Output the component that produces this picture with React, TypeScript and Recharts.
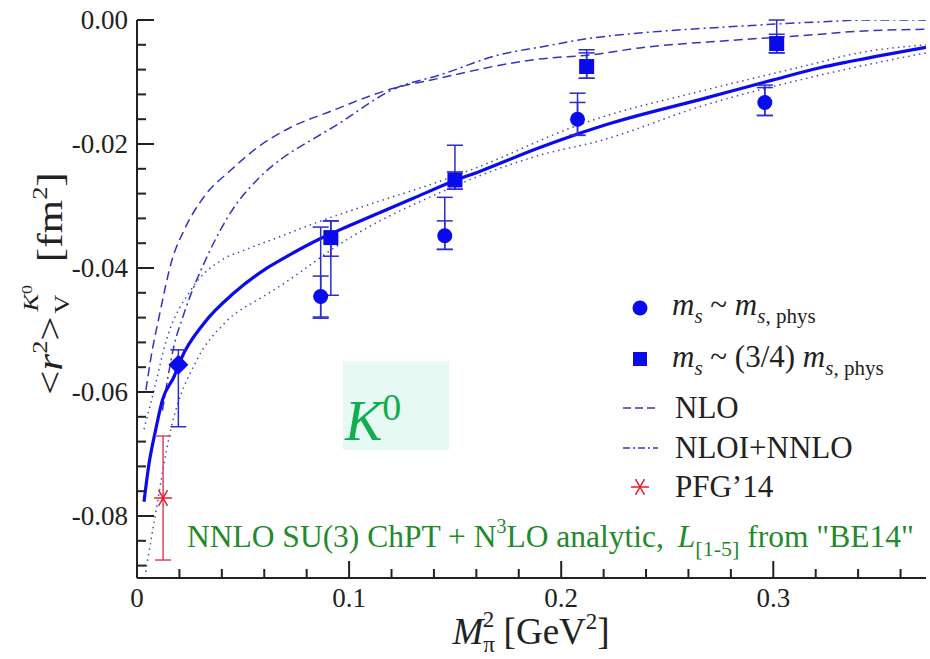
import React from 'react'
import { ComposedChart, Line, Scatter, XAxis, YAxis, ErrorBar, Customized } from 'recharts'

const FONT = '"Liberation Serif", "Times New Roman", Times, serif'
const BLUE = '#0a0aee'
const LINE_BLUE = '#3434c0'
const BAR_BLUE = '#2a2ad0'
const RED = '#e02030'
const AXIS = '#222'

// axis ticks
const xTicks = [0, 0.02, 0.04, 0.06, 0.08, 0.1, 0.12, 0.14, 0.16, 0.18, 0.2, 0.22, 0.24, 0.26, 0.28, 0.3, 0.32, 0.34, 0.36]
const yTicks = [0, -0.004, -0.008, -0.012, -0.016, -0.02, -0.024, -0.028, -0.032, -0.036, -0.04, -0.044, -0.048, -0.052, -0.056, -0.06, -0.064, -0.068, -0.072, -0.076, -0.08, -0.084, -0.088]

// central fit (NNLO SU(3) ChPT + N3LO)
const fitX = [0.0033, 0.0057, 0.0088, 0.012, 0.0175, 0.0206, 0.0316, 0.0458, 0.06, 0.0678, 0.0868, 0.1, 0.13, 0.1499, 0.161, 0.1896, 0.2, 0.221, 0.268, 0.2995, 0.322, 0.336, 0.372]
const fitY = [-0.0777, -0.0715, -0.0661, -0.0613, -0.0575, -0.0548, -0.0489, -0.044, -0.0403, -0.0387, -0.0352, -0.0332, -0.0288, -0.0259, -0.0245, -0.0206, -0.0193, -0.0169, -0.0126, -0.0097, -0.0077, -0.0067, -0.0044]

// error band, upper and lower edge
const upX = [0.0033, 0.008, 0.014, 0.0255, 0.041, 0.05, 0.067, 0.082, 0.0986, 0.1486, 0.161, 0.2085, 0.218, 0.268, 0.322, 0.336, 0.372]
const upY = [-0.066, -0.0597, -0.0515, -0.0435, -0.0385, -0.0372, -0.035, -0.033, -0.031, -0.0253, -0.0237, -0.0169, -0.0158, -0.0113, -0.0068, -0.0056, -0.004]
const loX = [0.0041, 0.008, 0.0159, 0.0283, 0.041, 0.06, 0.067, 0.0986, 0.1457, 0.161, 0.19, 0.218, 0.268, 0.322, 0.372]
const loY = [-0.089, -0.0811, -0.0661, -0.0548, -0.049, -0.0445, -0.043, -0.0355, -0.0274, -0.0252, -0.0218, -0.0195, -0.0137, -0.0089, -0.0053]

// NLO
const nloX = [0.0042, 0.0066, 0.0104, 0.0165, 0.0222, 0.0316, 0.0443, 0.0566, 0.0726, 0.0915, 0.12, 0.1425, 0.171, 0.1896, 0.2146, 0.237, 0.284, 0.322, 0.336, 0.372]
const nloY = [-0.0597, -0.0544, -0.0479, -0.0387, -0.0339, -0.0285, -0.0242, -0.0206, -0.0173, -0.0147, -0.0111, -0.0094, -0.0073, -0.0063, -0.0056, -0.0045, -0.0032, -0.0023, -0.0019, -0.0015]

// NLOI+NNLO
const nnloX = [0.012, 0.0175, 0.022, 0.033, 0.0458, 0.0566, 0.0693, 0.08, 0.0929, 0.122, 0.1425, 0.171, 0.1896, 0.2146, 0.237, 0.284, 0.322, 0.345, 0.372]
const nnloY = [-0.063, -0.0525, -0.0475, -0.0382, -0.0302, -0.0258, -0.0221, -0.0198, -0.0172, -0.011, -0.0089, -0.0056, -0.0044, -0.0029, -0.0021, -0.001, -0.0003, 0, 0]

// lattice points, m_s ~ m_s,phys
const circX = [0.0866, 0.1451, 0.2077, 0.296]
const circY = [-0.0446, -0.0348, -0.016, -0.0133]
const circTot = [[0.0035, 0.0112], [0.0022, 0.0062], [0.0026, 0.0042], [0.0021, 0.0028]]
const circStat = [[0.0033, 0.0033], [0.0022, 0.0024], [0.0026, 0.0027], [0.0021, 0.0024]]

// lattice points, m_s ~ (3/4) m_s,phys
const sqX = [0.0914, 0.1499, 0.212, 0.3016]
const sqY = [-0.0351, -0.0258, -0.0075, -0.0038]
const sqTot = [[0.0093, 0.0027], [0.0015, 0.0056], [0.0019, 0.0027], [0.0015, 0.0038]]
const sqStat = [[0.003, 0.0027], [0.0015, 0.0013], [0.0019, 0.0022], [0.0015, 0.0015]]

// physical point
const physX = [0.0195]
const physY = [-0.0556]
const physErr = [[0.01, 0.0024]]

// PFG'14
const pfgX = [0.0123]
const pfgY = [-0.0771]
const pfgErr = [[0.01, 0.01]]

const zip = (xs: number[], ys: number[]) => xs.map((x, i) => ({ x, y: ys[i] }))
const fitData = zip(fitX, fitY)
const upData = zip(upX, upY)
const loData = zip(loX, loY)
const nloData = zip(nloX, nloY)
const nnloData = zip(nnloX, nnloY)
const circData = circX.map((x, i) => ({ x, y: circY[i], tot: circTot[i], stat: circStat[i] }))
const sqData = sqX.map((x, i) => ({ x, y: sqY[i], tot: sqTot[i], stat: sqStat[i] }))
const physData = physX.map((x, i) => ({ x, y: physY[i], err: physErr[i] }))
const pfgData = pfgX.map((x, i) => ({ x, y: pfgY[i], err: pfgErr[i] }))

const isMajorX = (v: number) => Math.abs(v * 10 - Math.round(v * 10)) < 1e-6
const isMajorY = (v: number) => Math.abs(v * 50 - Math.round(v * 50)) < 1e-6

const BottomTick = ({ x, y, payload }: any) => {
  const v = payload.value
  const major = isMajorX(v)
  return (
    <g>
      <line x1={x} y1={y} x2={x} y2={y - (major ? 17 : 9)} stroke={AXIS} strokeWidth={2} />
      {major && (
        <text x={x} y={y + 29} textAnchor="middle" fontSize={27} fontFamily={FONT} fill={AXIS}>
          {v === 0 ? '0' : v.toFixed(1)}
        </text>
      )}
    </g>
  )
}

const TopTick = ({ x, y, payload }: any) => (
  <line x1={x} y1={y} x2={x} y2={y + (isMajorX(payload.value) ? 17 : 9)} stroke={AXIS} strokeWidth={2} />
)

const LeftTick = ({ x, y, payload }: any) => {
  const v = payload.value
  const major = isMajorY(v)
  return (
    <g>
      <line x1={x} y1={y} x2={x + (major ? 17 : 9)} y2={y} stroke={AXIS} strokeWidth={2} />
      {major && (
        <text x={x - 9} y={y} dy="0.35em" textAnchor="end" fontSize={27} fontFamily={FONT} fill={AXIS}>
          {Math.abs(v) < 1e-9 ? '0.00' : v.toFixed(2)}
        </text>
      )}
    </g>
  )
}

const RightTick = ({ x, y, payload }: any) => (
  <line x1={x} y1={y} x2={x - (isMajorY(payload.value) ? 17 : 9)} y2={y} stroke={AXIS} strokeWidth={2} />
)

const CircleDot = ({ cx, cy }: any) => <circle cx={cx} cy={cy} r={7.5} fill={BLUE} />
const SquareDot = ({ cx, cy }: any) => <rect x={cx - 7.5} y={cy - 7.5} width={15} height={15} fill={BLUE} />
const DiamondDot = ({ cx, cy }: any) => (
  <polygon points={`${cx - 10},${cy} ${cx},${cy - 10} ${cx + 10},${cy} ${cx},${cy + 10}`} fill={BLUE} />
)
const Star = ({ cx, cy, r = 9 }: any) => (
  <g stroke={RED} strokeWidth={1.5}>
    {[0, 60, 120].map((a) => {
      const dx = r * Math.cos((a * Math.PI) / 180)
      const dy = r * Math.sin((a * Math.PI) / 180)
      return <line key={a} x1={cx - dx} y1={cy - dy} x2={cx + dx} y2={cy + dy} />
    })}
  </g>
)
const StarDot = ({ cx, cy }: any) => <Star cx={cx} cy={cy} r={9} />

const Overlay = () => (
  <g fontFamily={FONT}>
    {/* K0 tag */}
    <rect x={343} y={361} width={106} height={89} fill="#e6f9f3" />
    <text x={345} y={440} fill="#12ad52" fontSize={56} fontStyle="italic">
      K<tspan dy={-20} fontSize={38} fontStyle="normal">0</tspan>
    </text>

    {/* annotation */}
    <text x={187} y={547} fontSize={31.5} fill="#238a2b">
      NNLO SU(3) ChPT + N<tspan dy={-14} fontSize={20}>3</tspan>
      <tspan dy={14}>LO analytic, </tspan>
      <tspan dx={6} fontStyle="italic">L</tspan>
      <tspan dy={9} fontSize={22}>[1-5]</tspan>
      <tspan dy={-9}> from "BE14"</tspan>
    </text>

    {/* legend */}
    <g fontSize={31} fill={AXIS}>
      <circle cx={640} cy={308} r={7.5} fill={BLUE} />
      <text x={672} y={315}>
        <tspan fontStyle="italic">m</tspan>
        <tspan dy={8} fontSize={21} fontStyle="italic">s</tspan>
        <tspan dy={-8}> ~ </tspan>
        <tspan fontStyle="italic">m</tspan>
        <tspan dy={8} fontSize={21}>
          <tspan fontStyle="italic">s</tspan>, phys
        </tspan>
      </text>

      <rect x={633} y={352} width={14} height={14} fill={BLUE} />
      <text x={672} y={367}>
        <tspan fontStyle="italic">m</tspan>
        <tspan dy={8} fontSize={21} fontStyle="italic">s</tspan>
        <tspan dy={-8}> ~ (3/4) </tspan>
        <tspan fontStyle="italic">m</tspan>
        <tspan dy={8} fontSize={21}>
          <tspan fontStyle="italic">s</tspan>, phys
        </tspan>
      </text>

      <line x1={623} y1={408} x2={658} y2={408} stroke={LINE_BLUE} strokeWidth={1.5} strokeDasharray="8 4" />
      <text x={675} y={418}>NLO</text>

      <line x1={623} y1={448} x2={658} y2={448} stroke={LINE_BLUE} strokeWidth={1.5} strokeDasharray="7 3 2 3" />
      <text x={675} y={458}>NLOI+NNLO</text>

      <Star cx={640} cy={487} r={9} />
      <text x={675} y={497}>PFG’14</text>
    </g>

    {/* axis titles */}
    <text transform="translate(62,395) rotate(-90) scale(1.2,1)" fontSize={36} fill={AXIS}>
      &lt;<tspan fontStyle="italic">r</tspan>
      <tspan dy={-15} fontSize={22}>2</tspan>
      <tspan dy={15}>&gt;</tspan>
      <tspan dx={2} dy={7} fontSize={22}>V</tspan>
      <tspan dx={-14} dy={-31} fontSize={22} fontStyle="italic">K</tspan>
      <tspan dy={-6} fontSize={15}>0</tspan>
      <tspan dx={10} dy={30}> [fm</tspan>
      <tspan dy={-15} fontSize={22}>2</tspan>
      <tspan dy={15}>]</tspan>
    </text>
    <text x={531} y={644} textAnchor="middle" fontSize={37} fill={AXIS}>
      <tspan fontStyle="italic">M</tspan>
      <tspan dy={8} fontSize={23}>π</tspan>
      <tspan dx={-12} dy={-25} fontSize={23}>2</tspan>
      <tspan dy={17}> [GeV</tspan>
      <tspan dy={-15} fontSize={23}>2</tspan>
      <tspan dy={15}>]</tspan>
    </text>
  </g>
)

export default function App() {
  return (
    <div style={{ position: 'absolute', left: 0, top: 0, width: 930, height: 659, background: '#fff' }}>
      <ComposedChart width={930} height={659} margin={{ top: 20, right: 4, bottom: 0, left: 0 }}>
        <XAxis
          xAxisId="b"
          dataKey="x"
          type="number"
          domain={[0, 0.372]}
          allowDataOverflow
          ticks={xTicks}
          interval={0}
          height={81}
          tickSize={0}
          tickMargin={0}
          tickLine={false}
          tick={BottomTick}
          axisLine={{ stroke: AXIS, strokeWidth: 2 }}
        />
        <XAxis
          xAxisId="t"
          orientation="top"
          dataKey="x"
          type="number"
          domain={[0, 0.372]}
          allowDataOverflow
          ticks={xTicks}
          interval={0}
          height={0}
          tickSize={0}
          tickMargin={0}
          tickLine={false}
          tick={TopTick}
          axisLine={{ stroke: AXIS, strokeWidth: 2 }}
        />
        <YAxis
          yAxisId="l"
          dataKey="y"
          type="number"
          domain={[-0.09, 0]}
          allowDataOverflow
          ticks={yTicks}
          interval={0}
          width={137}
          tickSize={0}
          tickMargin={0}
          tickLine={false}
          tick={LeftTick}
          axisLine={{ stroke: AXIS, strokeWidth: 2 }}
        />
        <YAxis
          yAxisId="r"
          orientation="right"
          dataKey="y"
          type="number"
          domain={[-0.09, 0]}
          allowDataOverflow
          ticks={yTicks}
          interval={0}
          width={0}
          tickSize={0}
          tickMargin={0}
          tickLine={false}
          tick={RightTick}
          axisLine={{ stroke: AXIS, strokeWidth: 2 }}
        />

        <Customized component={Overlay} />

        <Line xAxisId="b" yAxisId="l" data={nloData} dataKey="y" type="monotone" dot={false} stroke={LINE_BLUE} strokeWidth={1.5} strokeDasharray="9 5" isAnimationActive={false} />
        <Line xAxisId="b" yAxisId="l" data={nnloData} dataKey="y" type="monotone" dot={false} stroke={LINE_BLUE} strokeWidth={1.5} strokeDasharray="9 4 2 4" isAnimationActive={false} />
        <Line xAxisId="b" yAxisId="l" data={upData} dataKey="y" type="monotone" dot={false} stroke="#4848b8" strokeWidth={1.5} strokeDasharray="1.5 4" isAnimationActive={false} />
        <Line xAxisId="b" yAxisId="l" data={loData} dataKey="y" type="monotone" dot={false} stroke="#4848b8" strokeWidth={1.5} strokeDasharray="1.5 4" isAnimationActive={false} />
        <Line xAxisId="b" yAxisId="l" data={fitData} dataKey="y" type="monotone" dot={false} stroke={BLUE} strokeWidth={3.2} isAnimationActive={false} />

        <Scatter xAxisId="b" yAxisId="l" data={circData} dataKey="y" shape={CircleDot} isAnimationActive={false}>
          <ErrorBar dataKey="tot" direction="y" width={8} stroke={BAR_BLUE} strokeWidth={1.5} />
          <ErrorBar dataKey="stat" direction="y" width={8} stroke={BAR_BLUE} strokeWidth={1.5} />
        </Scatter>
        <Scatter xAxisId="b" yAxisId="l" data={sqData} dataKey="y" shape={SquareDot} isAnimationActive={false}>
          <ErrorBar dataKey="tot" direction="y" width={8} stroke={BAR_BLUE} strokeWidth={1.5} />
          <ErrorBar dataKey="stat" direction="y" width={8} stroke={BAR_BLUE} strokeWidth={1.5} />
        </Scatter>
        <Scatter xAxisId="b" yAxisId="l" data={physData} dataKey="y" shape={DiamondDot} isAnimationActive={false}>
          <ErrorBar dataKey="err" direction="y" width={8} stroke={BAR_BLUE} strokeWidth={1.5} />
        </Scatter>
        <Scatter xAxisId="b" yAxisId="l" data={pfgData} dataKey="y" shape={StarDot} isAnimationActive={false}>
          <ErrorBar dataKey="err" direction="y" width={8} stroke="#d84858" strokeWidth={1.5} />
        </Scatter>
      </ComposedChart>
    </div>
  )
}
